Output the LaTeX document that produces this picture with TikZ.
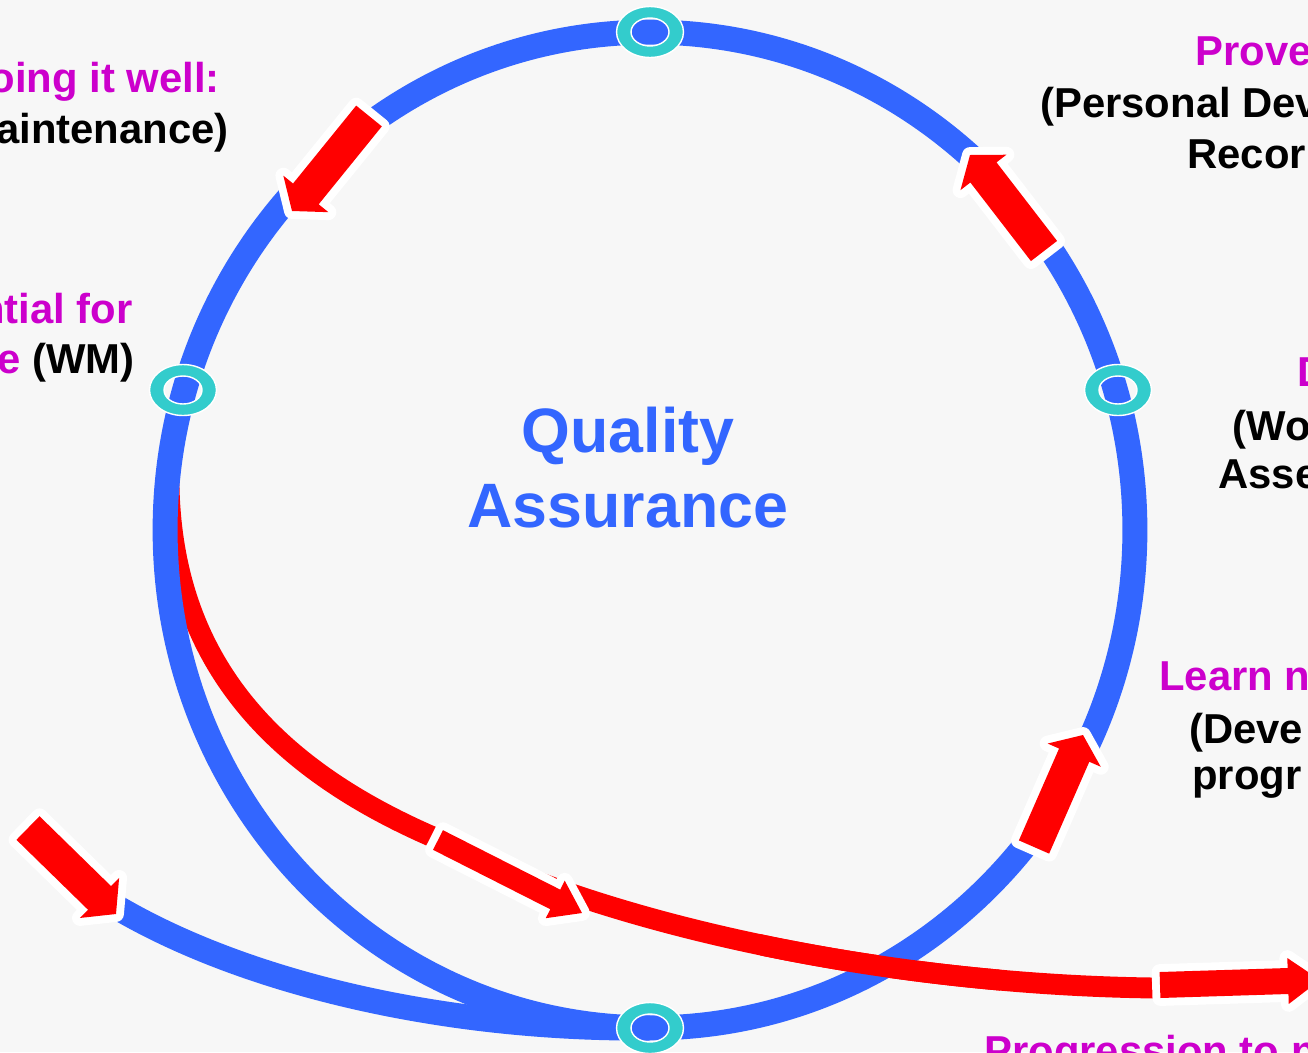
\documentclass[tikz,border=0pt]{standalone}
\usepackage{fontspec}
\setmainfont{Liberation Sans}
\usetikzlibrary{calc}
\definecolor{bgc}{HTML}{F7F7F7}
\definecolor{qblue}{HTML}{3366FF}
\definecolor{qteal}{HTML}{33CCCC}
\definecolor{qred}{HTML}{FF0000}
\definecolor{qmag}{HTML}{CC00CC}
% block arrow: #1 tail, #2 tip, #3 half shaft, #4 half head, #5 head length
\newcommand\blkarrow[5]{%
  \coordinate (bh) at ($(#2)!#5!(#1)$);
  \path[fill=qred, preaction={draw=white, line width=9pt, line join=round}]
    ($(#1)!#3!90:(#2)$) -- ($(bh)!#3!90:(#2)$) -- ($(bh)!#4!90:(#2)$) -- (#2)
    -- ($(bh)!#4!-90:(#2)$) -- ($(bh)!#3!-90:(#2)$) -- ($(#1)!#3!-90:(#2)$) -- cycle;
}
\newcommand\qring[1]{%
  \path[fill=qteal, even odd rule, draw=white, line width=0.8pt]
    (#1) ellipse [x radius=0.67cm, y radius=0.51cm]
    (#1) ellipse [x radius=0.38cm, y radius=0.28cm];
}
\begin{document}
\begin{tikzpicture}[x=0.02cm, y=-0.02cm,
  blueline/.style={draw=qblue, line width=14.2pt},
  redline/.style={draw=qred, line width=11.9pt},
  lbl/.style={inner sep=0pt, font=\fontsize{23.8}{28}\selectfont\bfseries},
  ttl/.style={inner sep=0pt, text=qblue, font=\fontsize{35.7}{42}\selectfont\bfseries}]
\useasboundingbox (0,0) rectangle (1308,1052);
\clip (0,0) rectangle (1308,1052);
\fill[bgc] (0,0) rectangle (1308,1052);

% coordinates
\coordinate (c) at (650,530);
\coordinate (ntop) at (650,32);
\coordinate (nleft) at (183,390);
\coordinate (nright) at (1118,390);
\coordinate (nbot) at (650,1028);
\coordinate (r0) at (169,466);
\coordinate (r1) at (440,840);
\coordinate (r2) at (1155,988);
\coordinate (b0) at (118,908);

% red curve (below the circle)
\path[redline] (r0) .. controls (165,660) and (275,770) .. (r1)
   .. controls (620,930) and (900,985) .. (r2);

% blue circle and lower blue curve
\path[blueline] (c) ellipse [x radius=9.7cm, y radius=9.96cm];
\path[blueline] (b0) .. controls (250,985) and (450,1030) .. (nbot);

% red over blue at crossing
\begin{scope}
\clip (760,900) rectangle (1000,1052);
\path[redline] (r0) .. controls (165,660) and (275,770) .. (r1)
   .. controls (620,930) and (900,985) .. (r2);
\end{scope}

% rings
\qring{ntop}
\qring{nleft}
\qring{nright}
\qring{nbot}

% arrows
\coordinate (a1t) at (369,116); \coordinate (a1h) at (292,211);
\coordinate (a2t) at (1044,251); \coordinate (a2h) at (970,155);
\coordinate (a3t) at (1034,847); \coordinate (a3h) at (1083,735);
\coordinate (a4t) at (438,840); \coordinate (a4h) at (582,913);
\coordinate (a5t) at (28,828); \coordinate (a5h) at (116,914);
\coordinate (a6t) at (1160,985); \coordinate (a6h) at (1320,980);
\blkarrow{a1t}{a1h}{0.33cm}{0.58cm}{0.44cm}
\blkarrow{a2t}{a2h}{0.33cm}{0.58cm}{0.44cm}
\blkarrow{a3t}{a3h}{0.33cm}{0.58cm}{0.44cm}
\blkarrow{a4t}{a4h}{0.22cm}{0.42cm}{0.6cm}
\blkarrow{a5t}{a5h}{0.33cm}{0.56cm}{0.46cm}
\blkarrow{a6t}{a6h}{0.26cm}{0.46cm}{0.64cm}

% title
\node[ttl, anchor=base] (q1) at (628,452) {Quality};
\node[ttl, anchor=base] (q2) at (628,527) {Assurance};

% labels
\node[lbl, text=qmag, anchor=base east] (l1a) at (220,92) {oing it well:};
\node[lbl, text=black, anchor=base east] (l1b) at (229,143) {aintenance)};
\node[lbl, text=qmag, anchor=base east] (l2a) at (133,323) {ntial for};
\node[lbl, text=black, anchor=base east] (l2b) at (135,373) {\textcolor{qmag}{e} (WM)};

\node[lbl, text=qmag, anchor=base west] (r1a) at (1195,65) {Prove};
\node[lbl, text=black, anchor=base west] (r1b) at (1040,117) {(Personal Dev};
\node[lbl, text=black, anchor=base west] (r1c) at (1187,168) {Recor};

\node[lbl, text=qmag, anchor=base west] (r2a) at (1297,386) {D};
\node[lbl, text=black, anchor=base west] (r2b) at (1232,440) {(Wo};
\node[lbl, text=black, anchor=base west] (r2c) at (1218,488) {Asse};

\node[lbl, text=qmag, anchor=base west] (r3a) at (1159,690) {Learn n};
\node[lbl, text=black, anchor=base west] (r3b) at (1189,743) {(Deve};
\node[lbl, text=black, anchor=base west] (r3c) at (1192,789) {progr};

\node[lbl, text=qmag, anchor=base west] (r4a) at (984,1065) {Progression to n};
\end{tikzpicture}
\end{document}
